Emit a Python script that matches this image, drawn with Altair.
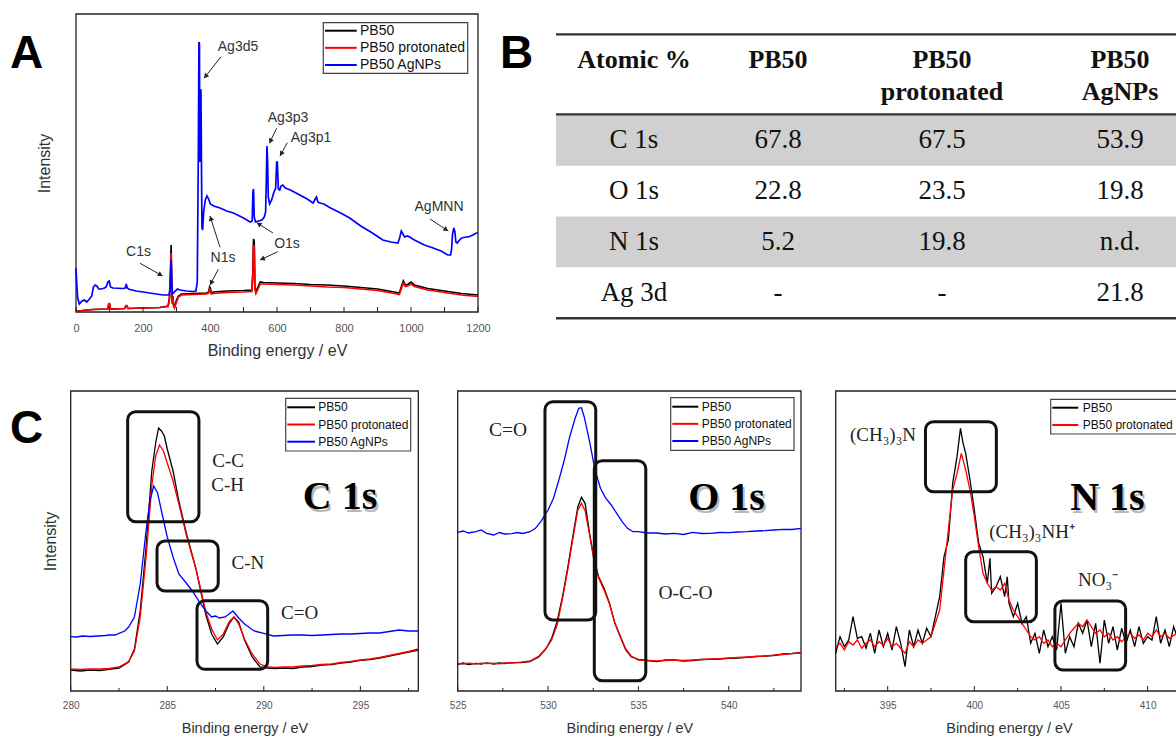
import math
import altair as alt
import pandas as pd

W, H = 1176, 737
SANS = "Liberation Sans"
SERIF = "Liberation Serif"
INK = "#222222"

SERIES = ["PB50", "PB50 protonated", "PB50 AgNPs"]
SERIES_COLORS = ["#000000", "#ff0000", "#0000ff"]

# ---------------- (A) XPS survey spectra: (binding energy eV, intensity a.u.) ----------------
survey_pb50 = [(0, 1), (20, 1.5), (50, 2.5), (95, 3), (98, 8), (100, 8), (103, 3), (145, 3.5), (149, 6),
               (152, 6), (155, 3.5), (200, 4), (250, 4.5), (275, 6), (279, 14), (282, 40), (284, 67),
               (285.5, 30), (287, 10), (289, 16), (291, 8), (294, 5), (300, 12), (306, 16), (315, 18),
               (350, 18.5), (390, 19), (396, 20), (399, 25), (401, 24), (404, 19), (410, 20), (450, 21),
               (500, 21.5), (525, 22), (528, 40), (530, 73), (532, 70), (534, 25), (537, 20), (542, 24),
               (550, 30), (560, 29.5), (600, 29), (650, 28.5), (700, 27.5), (750, 27), (800, 26),
               (850, 24.5), (900, 23), (950, 20), (965, 19), (972, 26), (977, 31), (983, 27), (990, 27.5),
               (1000, 30), (1010, 27), (1050, 23.5), (1100, 21), (1150, 18.5), (1200, 17)]
survey_protonated = [(0, 0.5), (5, 1), (20, 1.5), (50, 2.5), (95, 3), (98, 8.5), (100, 8.5), (103, 3),
                     (145, 3.5), (149, 6.5), (152, 6.5), (155, 3.5), (200, 4), (250, 4.5), (275, 5.5),
                     (279, 13), (282, 35), (284, 59), (285.5, 28), (287, 8), (289, 14), (291, 6), (294, 4),
                     (300, 10), (306, 15), (315, 17), (350, 17.5), (390, 18), (396, 19), (399, 23),
                     (401, 22), (404, 18), (410, 18.5), (450, 19.5), (500, 20), (525, 20.5), (528, 38),
                     (530, 67), (532, 64), (534, 23), (537, 18.5), (542, 22), (550, 28), (560, 28),
                     (600, 27.5), (650, 27), (700, 26), (750, 25), (800, 24.5), (850, 23), (900, 21.5),
                     (950, 18.5), (965, 17.5), (972, 24), (977, 29), (983, 25.5), (990, 26), (1000, 28),
                     (1010, 25.5), (1050, 22), (1100, 19.5), (1150, 17), (1200, 15.5)]
survey_agnps = [(0, 44), (2, 30), (5, 14), (10, 8), (18, 11), (25, 12), (32, 10), (40, 13), (47, 16),
                (52, 25), (57, 27), (62, 26), (68, 23), (75, 23), (85, 24), (90, 25), (95, 30), (99, 31),
                (103, 25), (110, 24), (140, 23.5), (147, 24), (150, 28), (153, 24), (160, 22.5),
                (180, 21), (200, 20), (230, 18.5), (260, 17), (278, 17), (282, 25), (284, 52), (286, 30),
                (288, 18), (291, 19), (296, 21), (303, 23), (310, 22), (330, 21), (350, 20.5), (358, 21),
                (362, 30), (365, 150), (367, 270), (368.5, 268), (369.5, 150), (371, 222), (373, 222),
                (374.5, 150), (376, 84), (378, 82), (381, 100), (386, 112), (391, 116), (396, 113),
                (401, 108), (411, 106), (430, 104), (450, 101), (470, 99), (500, 94), (520, 90),
                (526, 91), (528, 120), (530, 123), (532, 95), (536, 90), (545, 91), (555, 92), (562, 95),
                (566, 100), (568, 130), (570, 166), (572, 150), (574, 115), (578, 108), (584, 112),
                (590, 119), (596, 124), (599, 150), (601, 150), (604, 123), (608, 122), (612, 126),
                (617, 127), (625, 124), (640, 122), (668, 117), (690, 113), (708, 109), (714, 113),
                (718, 115), (722, 110), (728, 109), (740, 108), (760, 104), (790, 99), (817, 94),
                (850, 86), (880, 80), (916, 72), (940, 70), (961, 69), (966, 74), (971, 81), (976, 78),
                (981, 75), (990, 76), (996, 75), (1010, 72), (1040, 67), (1066, 64), (1090, 61),
                (1110, 57), (1118, 57), (1121, 62), (1124, 78), (1128, 84), (1131, 80), (1134, 70),
                (1138, 69), (1145, 72), (1151, 74), (1165, 75), (1171, 75), (1185, 77), (1195, 79),
                (1200, 79)]

survey_labels = [(483.6, 265, "Ag3d5"), (632.8, 194, "Ag3p3"), (701.5, 174, "Ag3p1"),
                 (1083.6, 105, "AgMNN"), (629.9, 68, "O1s"), (438.8, 54, "N1s"), (186.6, 60.3, "C1s")]
# arrows: (from eV, from intensity, to eV, to intensity)
survey_arrows = [(432.9, 255.3, 382.1, 233.7), (599.1, 183.7, 577.0, 168.7), (630.7, 169.3, 608.9, 156.0),
                 (1056.7, 93, 1111.3, 81), (588.0, 79, 539.4, 89.3), (602.1, 60.3, 549.3, 52),
                 (429.9, 64.7, 400.0, 96), (424.8, 42.7, 400.0, 27), (191.1, 48.7, 258.8, 36)]

# ---------------- (B) surface composition, atomic % ----------------
table_rows = ["C 1s", "O 1s", "N 1s", "Ag 3d"]
atomic_pb50 = ["67.8", "22.8", "5.2", "-"]
atomic_protonated = ["67.5", "23.5", "19.8", "-"]
atomic_agnps = ["53.9", "19.8", "n.d.", "21.8"]
table_header = [("Atomic %", ""), ("PB50", ""), ("PB50", "protonated"), ("PB50", "AgNPs")]
shaded_rows = ["C 1s", "N 1s"]

# ---------------- (C) high-resolution core-level spectra ----------------
c1s_pb50 = [(280.0, 21), (280.5, 20), (281.0, 21), (281.5, 20.5), (282.0, 21.7), (282.5, 23), (283.0, 29),
            (283.3, 42), (283.6, 80), (283.9, 143), (284.2, 220), (284.4, 248), (284.55, 263), (284.7, 260),
            (284.85, 255), (285.0, 242), (285.3, 220), (285.6, 190), (286.0, 157), (286.5, 121),
            (287.0, 76), (287.3, 57), (287.6, 47), (287.9, 54), (288.2, 67), (288.45, 74), (288.7, 69),
            (289.0, 51), (289.4, 34), (289.8, 24), (290.2, 23), (290.6, 22.5), (291.0, 23), (291.5, 22.5),
            (292.0, 24), (292.5, 24.5), (293.0, 26), (293.5, 26.5), (294.0, 28), (294.5, 29), (295.0, 30.7),
            (295.5, 31.5), (296.0, 33), (296.5, 35), (297.0, 37), (297.5, 39), (298.0, 41)]
c1s_protonated = [(280.0, 22), (280.5, 21.5), (281.0, 22), (281.5, 22), (282.0, 22.5), (282.5, 24),
                  (283.0, 29.5), (283.3, 40), (283.6, 74), (283.9, 133), (284.2, 205), (284.4, 235),
                  (284.6, 246), (284.8, 240), (285.0, 228), (285.3, 210), (285.6, 187), (286.0, 155),
                  (286.5, 121), (287.0, 79), (287.3, 62), (287.6, 51), (287.9, 57), (288.2, 69),
                  (288.45, 74), (288.7, 67), (289.0, 52), (289.4, 37), (289.8, 27), (290.2, 24),
                  (290.6, 23.5), (291.0, 24), (291.5, 24), (292.0, 25), (292.5, 25.5), (293.0, 26.5),
                  (293.5, 27), (294.0, 28.5), (294.5, 29.5), (295.0, 31), (295.5, 32), (296.0, 33.5),
                  (296.5, 35.5), (297.0, 37.5), (297.5, 39.5), (298.0, 42)]
c1s_agnps = [(280.0, 54.3), (280.3, 54), (280.6, 55), (281.0, 54.5), (281.4, 55), (281.8, 55.5), (282.0, 56),
             (282.3, 56), (282.5, 57.7), (282.8, 60), (283.0, 64), (283.3, 74), (283.6, 107), (283.9, 160),
             (284.1, 190), (284.3, 205), (284.5, 198), (284.7, 180), (285.0, 154), (285.3, 134),
             (285.6, 117), (285.9, 110), (286.3, 100), (286.7, 88), (287.0, 80), (287.3, 74), (287.5, 75),
             (287.7, 73), (288.0, 74), (288.2, 77), (288.4, 80), (288.7, 73), (289.0, 67), (289.5, 60),
             (290.0, 57.7), (290.5, 55), (291.0, 55.5), (291.5, 56), (292.0, 56), (292.5, 55.5), (293.0, 56),
             (293.5, 56.5), (294.0, 57), (294.5, 57), (295.0, 57.5), (295.5, 58), (296.0, 58), (296.5, 59.5),
             (297.0, 61), (297.5, 60), (298.0, 60)]

o1s_pb50 = [(525.0, 26.7), (525.3, 28), (525.6, 26.5), (526.0, 27.7), (526.3, 27), (526.6, 28.2), (527.0, 27),
            (527.3, 28), (527.6, 27.5), (528.0, 28.3), (528.5, 28.3), (529.0, 29.3), (529.5, 34.3),
            (529.9, 42.7), (530.2, 52.7), (530.5, 69.3), (530.8, 94.3), (531.1, 124.3), (531.4, 157.7),
            (531.65, 184.3), (531.85, 193.7), (532.05, 187.7), (532.3, 157.7), (532.55, 131), (532.8, 114.3),
            (533.1, 102.7), (533.4, 87.7), (533.7, 67.7), (534.0, 54.3), (534.3, 41), (534.6, 34.3),
            (535.0, 31.7), (535.5, 30.5), (536.0, 29.3), (536.5, 31), (537.0, 31), (537.5, 30), (538.0, 30.3),
            (538.5, 31.5), (539.0, 31.7), (539.5, 32), (540.0, 32.7), (540.5, 33), (541.0, 33.7),
            (541.5, 34.5), (542.0, 35), (542.5, 35.5), (543.0, 37), (543.5, 37.5), (544.0, 38.3)]
o1s_protonated = [(525.0, 27.5), (525.3, 27), (525.6, 27.8), (526.0, 27), (526.3, 27.8), (526.6, 27.3),
                  (527.0, 27.8), (527.3, 27.2), (527.6, 28), (528.0, 28), (528.5, 28.8), (529.0, 30),
                  (529.5, 35), (529.9, 43), (530.2, 51), (530.5, 66), (530.8, 92), (531.1, 122), (531.4, 155),
                  (531.65, 181), (531.85, 187.7), (532.05, 180), (532.3, 156), (532.55, 130), (532.8, 113),
                  (533.1, 101), (533.4, 87), (533.7, 68), (534.0, 55), (534.3, 42), (534.6, 35), (535.0, 31),
                  (535.5, 30.5), (536.0, 30.2), (536.5, 30.5), (537.0, 30.8), (537.5, 30.5), (538.0, 31),
                  (538.5, 31.5), (539.0, 32), (539.5, 32.3), (540.0, 33), (540.5, 33.5), (541.0, 34),
                  (541.5, 34.5), (542.0, 35), (542.5, 35.8), (543.0, 36.5), (543.5, 37.3), (544.0, 38)]
o1s_agnps = [(525.0, 158.7), (525.3, 160), (525.6, 158), (526.0, 159.3), (526.3, 161), (526.6, 157.7),
             (527.0, 156), (527.3, 158.5), (527.6, 157), (528.0, 157.3), (528.3, 158.5), (528.6, 157.5),
             (529.0, 159.3), (529.3, 162.7), (529.6, 169.3), (530.0, 181), (530.3, 192.7), (530.6, 211),
             (530.9, 231), (531.2, 254.3), (531.5, 272.7), (531.7, 282.7), (531.85, 283.3), (532.0, 274.3),
             (532.3, 249.3), (532.6, 221), (532.9, 202.7), (533.2, 192.7), (533.5, 186), (533.8, 177.7),
             (534.1, 169.3), (534.4, 162.7), (534.7, 159.3), (535.0, 159.3), (535.5, 158), (536.0, 158),
             (536.5, 157), (537.0, 157.7), (537.5, 156.5), (538.0, 158.7), (538.5, 157.5), (539.0, 157.7),
             (539.5, 158.5), (540.0, 158.3), (540.5, 159), (541.0, 159.3), (541.5, 160), (542.0, 160.3),
             (542.5, 161), (543.0, 161.7), (543.5, 161.5), (544.0, 162.7)]

n1s_pb50 = [(392.0, 37.7), (392.25, 54.3), (392.5, 44.3), (392.75, 51), (393.0, 74.3), (393.25, 52.7),
            (393.5, 54.3), (393.75, 42.7), (394.0, 57.7), (394.25, 37.7), (394.5, 61), (394.75, 44.3),
            (395.0, 57.7), (395.25, 41), (395.5, 64.3), (395.75, 47.7), (396.0, 24.3), (396.25, 61),
            (396.5, 44.3), (396.75, 61), (397.0, 47.7), (397.25, 62.7), (397.5, 54.3), (397.75, 74.3),
            (398.0, 94.3), (398.25, 134.3), (398.5, 151), (398.75, 207.7), (399.0, 234.3), (399.2, 262.7),
            (399.35, 247.7), (399.5, 237.7), (399.75, 211), (400.0, 181), (400.25, 147.7), (400.5, 134.3),
            (400.75, 107.7), (400.9, 132.7), (401.0, 97.7), (401.25, 104.3), (401.5, 114.3), (401.75, 94.3),
            (401.9, 114.3), (402.0, 87.7), (402.25, 74.3), (402.5, 87.7), (402.75, 67.7), (403.0, 74.3),
            (403.25, 47.7), (403.5, 57.7), (403.75, 37.7), (404.0, 61), (404.25, 44.3), (404.5, 54.3),
            (404.75, 41), (405.0, 87.7), (405.25, 37.7), (405.5, 54.3), (405.75, 44.3), (406.0, 67.7),
            (406.25, 57.7), (406.5, 71), (406.75, 44.3), (407.0, 67.7), (407.25, 27.7), (407.5, 71),
            (407.75, 47.7), (408.0, 64.3), (408.25, 41), (408.5, 62.7), (408.75, 47.7), (409.0, 61),
            (409.25, 44.3), (409.5, 64.3), (409.75, 47.7), (410.0, 54.3), (410.25, 51), (410.5, 74.3),
            (410.75, 47.7), (411.0, 61), (411.25, 44.3), (411.5, 64.3), (411.7, 54.3)]
n1s_protonated = [(392.0, 44.3), (392.25, 47.7), (392.5, 41), (392.75, 49.3), (393.0, 46), (393.25, 51),
                  (393.5, 42.7), (393.75, 47.7), (394.0, 51), (394.25, 44.3), (394.5, 49.3), (394.75, 46),
                  (395.0, 52.7), (395.25, 44.3), (395.5, 47.7), (395.75, 42.7), (396.0, 37.7), (396.25, 49.3),
                  (396.5, 44.3), (396.75, 51), (397.0, 47.7), (397.25, 51), (397.5, 54.3), (397.75, 67.7),
                  (398.0, 81), (398.25, 121), (398.5, 161), (398.75, 201), (399.0, 217.7), (399.25, 237.7),
                  (399.5, 221), (399.75, 201), (400.0, 174.3), (400.25, 144.3), (400.5, 117.7),
                  (400.75, 107.7), (401.0, 101), (401.25, 104.3), (401.5, 101), (401.75, 107.7), (402.0, 91),
                  (402.25, 81), (402.5, 74.3), (402.75, 67.7), (403.0, 61), (403.25, 54.3), (403.5, 51),
                  (403.75, 54.3), (404.0, 47.7), (404.25, 51), (404.5, 44.3), (404.75, 47.7), (405.0, 44.3),
                  (405.25, 51), (405.5, 57.7), (405.75, 62.7), (406.0, 67.7), (406.25, 64.3), (406.5, 71),
                  (406.75, 64.3), (407.0, 57.7), (407.25, 61), (407.5, 54.3), (407.75, 57.7), (408.0, 51),
                  (408.25, 54.3), (408.5, 49.3), (408.75, 54.3), (409.0, 57.7), (409.25, 52.7), (409.5, 56),
                  (409.75, 51), (410.0, 57.7), (410.25, 54.3), (410.5, 61), (410.75, 54.3), (411.0, 57.7),
                  (411.25, 52.7), (411.7, 57.7)]

# component boxes: (eV from, eV to, intensity low, intensity high)
c1s_boxes = [(282.95, 286.64, 169.3, 279.3), (284.47, 287.64, 100, 150), (286.54, 290.20, 21.7, 90.3)]
o1s_boxes = [(529.83, 532.64, 71, 289.3), (532.56, 535.41, 10.3, 230.3)]
n1s_boxes = [(397.18, 401.27, 199.3, 269.3), (399.50, 403.58, 69.3, 139.3), (404.65, 408.73, 21, 90)]

c1s_labels = [(288.15, 230.3, "C-C"), (288.13, 206, "C-H"), (289.18, 127.7, "C-N"), (291.85, 77.7, "C=O")]
o1s_labels = [(527.78, 261, "C=O"), (537.61, 98.3, "O-C-O")]
n1s_labels = [(394.73, 256, "(CH₃)₃N"), (403.33, 159.3, "(CH₃)₃NH⁺"), (407.14, 111, "NO₃⁻")]
core_titles = [(293.95, 194.5, "C 1s"), (539.88, 192.7, "O 1s"), (407.68, 193, "N 1s")]

# ---------------- layout: data domains and their pixel spans on the page ----------------
PANEL_A = dict(xdom=[0, 1200], xrng=[76, 478], ydom=[0, 298], yrng=[312, 14])
PANEL_C1 = dict(xdom=[280, 298], xrng=[70.7, 418.3], ydom=[0, 300], yrng=[691, 391])
PANEL_C2 = dict(xdom=[525, 544], xrng=[457.7, 801], ydom=[0, 300], yrng=[691, 391])
PANEL_C3 = dict(xdom=[392, 412], xrng=[835.7, 1182.3], ydom=[0, 300], yrng=[691, 391])


def xsc(p):
    return alt.Scale(domain=p["xdom"], range=p["xrng"], nice=False, zero=False)


def ysc(p):
    return alt.Scale(domain=p["ydom"], range=p["yrng"], nice=False, zero=False)


def spectrum(p, points, name, width):
    df = pd.DataFrame(points, columns=["ev", "intensity"])
    df["series"] = name
    return alt.Chart(df).mark_line(strokeWidth=width).encode(
        x=alt.X("ev:Q", scale=xsc(p), axis=None),
        y=alt.Y("intensity:Q", scale=ysc(p), axis=None),
        color=alt.Color("series:N", scale=alt.Scale(domain=SERIES, range=SERIES_COLORS), legend=None),
    )


def frame(p, ticks, label_size, label_pad, title_size, title_pad, y_title="", y_pad=0):
    df = pd.DataFrame({"x0": [p["xdom"][0]], "x1": [p["xdom"][1]],
                       "y0": [p["ydom"][0]], "y1": [p["ydom"][1]]})
    x_axis = alt.Axis(orient="bottom", offset=-(H - p["yrng"][0]), values=ticks, format="d",
                      ticks=False, tickSize=0, domain=False, grid=False, labelFlush=False,
                      labelFont=SANS, labelFontSize=label_size, labelColor="#555555",
                      labelPadding=label_pad, title="Binding energy / eV", titleFont=SANS,
                      titleFontSize=title_size, titleFontWeight="normal", titleColor="#333333",
                      titlePadding=title_pad)
    if y_title:
        y_axis = alt.Axis(orient="left", offset=-p["xrng"][0], labels=False, ticks=False, tickSize=0,
                          domain=False, grid=False, title=y_title, titleFont=SANS, titleFontSize=16,
                          titleFontWeight="normal", titleColor="#333333", titlePadding=y_pad)
    else:
        y_axis = None
    return alt.Chart(df).mark_rect(fillOpacity=0, stroke=INK, strokeWidth=1.3).encode(
        x=alt.X("x0:Q", scale=xsc(p), axis=x_axis), x2="x1:Q",
        y=alt.Y("y0:Q", scale=ysc(p), axis=y_axis), y2="y1:Q",
    )


def inner_ticks(p, values, length):
    df = pd.DataFrame({"v": values})
    return alt.Chart(df).mark_rule(stroke=INK, strokeWidth=1).encode(
        x=alt.X("v:Q", scale=xsc(p), axis=None),
        y=alt.value(p["yrng"][0]), y2=alt.value(p["yrng"][0] - length),
    )


def notes(p, items, font, size, color, weight="normal", dx=0, dy=0, opacity=1.0):
    df = pd.DataFrame(items, columns=["ev", "intensity", "label"])
    return alt.Chart(df).mark_text(font=font, fontSize=size, color=color, fontWeight=weight,
                                   align="center", baseline="middle", dx=dx, dy=dy,
                                   opacity=opacity).encode(
        x=alt.X("ev:Q", scale=xsc(p), axis=None),
        y=alt.Y("intensity:Q", scale=ysc(p), axis=None),
        text="label:N",
    )


def boxes(p, items):
    df = pd.DataFrame(items, columns=["e0", "e1", "i0", "i1"])
    return alt.Chart(df).mark_rect(fillOpacity=0, stroke="#111111", strokeWidth=3, cornerRadius=8).encode(
        x=alt.X("e0:Q", scale=xsc(p), axis=None), x2="e1:Q",
        y=alt.Y("i0:Q", scale=ysc(p), axis=None), y2="i1:Q",
    )


def arrows(p, items):
    px_per_ev = (p["xrng"][1] - p["xrng"][0]) / (p["xdom"][1] - p["xdom"][0])
    px_per_int = (p["yrng"][0] - p["yrng"][1]) / (p["ydom"][1] - p["ydom"][0])
    rows = []
    for e0, i0, e1, i1 in items:
        dx = (e1 - e0) * px_per_ev
        dy = -(i1 - i0) * px_per_int
        n = math.hypot(dx, dy)
        ux, uy = dx / n, dy / n
        rows.append(dict(e0=e0, i0=i0, e1=e1, i1=i1,
                         he=e1 - ux * 2.5 / px_per_ev, hi=i1 + uy * 2.5 / px_per_int,
                         ang=math.degrees(math.atan2(dx, -dy)) % 360))
    df = pd.DataFrame(rows)
    shafts = alt.Chart(df).mark_rule(stroke=INK, strokeWidth=1).encode(
        x=alt.X("e0:Q", scale=xsc(p), axis=None), x2="e1:Q",
        y=alt.Y("i0:Q", scale=ysc(p), axis=None), y2="i1:Q",
    )
    heads = alt.Chart(df).mark_point(shape="triangle-up", filled=True, size=30, color=INK, opacity=1).encode(
        x=alt.X("he:Q", scale=xsc(p), axis=None),
        y=alt.Y("hi:Q", scale=ysc(p), axis=None),
        angle=alt.Angle("ang:Q", scale=None),
    )
    return [shafts, heads]


def legend_box(names, colors, box, rows_y, line_x, text_x, size):
    one = pd.DataFrame({"k": [0]})
    frame_ = alt.Chart(one).mark_rect(fill="white", stroke="#444444", strokeWidth=1.2).encode(
        x=alt.value(box[0]), x2=alt.value(box[1]), y=alt.value(box[2]), y2=alt.value(box[3]))
    df = pd.DataFrame({"series": names})
    ypos = alt.Y("series:N", scale=alt.Scale(type="point", domain=names, range=list(rows_y), padding=0),
                 axis=None)
    keys = alt.Chart(df).mark_rule(strokeWidth=2).encode(
        x=alt.value(line_x[0]), x2=alt.value(line_x[1]), y=ypos,
        color=alt.Color("series:N", scale=alt.Scale(domain=names, range=colors), legend=None))
    labels = alt.Chart(df).mark_text(align="left", baseline="middle", font=SANS, fontSize=size,
                                     color="#111111").encode(x=alt.value(text_x), y=ypos, text="series:N")
    return [frame_, keys, labels]


def letter(ch, x, y):
    return alt.Chart(pd.DataFrame({"t": [ch]})).mark_text(
        font=SANS, fontSize=46, fontWeight="bold", color="#000000", align="left",
        baseline="alphabetic").encode(x=alt.value(x), y=alt.value(y), text="t:N")


layers = []

# ---- panel A: survey ----
layers.append(frame(PANEL_A, list(range(0, 1201, 200)), 11, 10, 16, 9, "Intensity", 24))
layers.append(spectrum(PANEL_A, survey_pb50, "PB50", 1.7))
layers.append(spectrum(PANEL_A, survey_protonated, "PB50 protonated", 1.7))
layers.append(spectrum(PANEL_A, survey_agnps, "PB50 AgNPs", 1.7))
layers.append(inner_ticks(PANEL_A, list(range(0, 1201, 100)), 5))
layers.append(notes(PANEL_A, survey_labels, SANS, 14, "#333333"))
layers += arrows(PANEL_A, survey_arrows)
layers += legend_box(SERIES, SERIES_COLORS, (323.3, 467.7, 22.7, 73.3), (30.7, 65), (325, 356.7), 360, 14)
layers.append(letter("A", 10, 68))

# ---- panel B: composition table ----
TABLE_X = (556, W)
COL_CENTERS = [634, 778, 942, 1120]
band_y = alt.Y("row:N", scale=alt.Scale(type="band", domain=table_rows, range=[115, 318],
                                        paddingInner=0, paddingOuter=0), axis=None, bandPosition=0.5)
shade = alt.Chart(pd.DataFrame({"row": shaded_rows})).mark_rect(color="#d0d0d0").encode(
    x=alt.value(TABLE_X[0]), x2=alt.value(TABLE_X[1]),
    y=alt.Y("row:N", scale=alt.Scale(type="band", domain=table_rows, range=[115, 318],
                                     paddingInner=0, paddingOuter=0), axis=None))
layers.append(shade)
for y_line, w_line in [(34.3, 2.2), (114.3, 2.2), (318.3, 2.6)]:
    layers.append(alt.Chart(pd.DataFrame({"k": [0]})).mark_rule(stroke="#333333", strokeWidth=w_line).encode(
        x=alt.value(TABLE_X[0]), x2=alt.value(TABLE_X[1]), y=alt.value(y_line)))
for cx, (top, bottom) in zip(COL_CENTERS, table_header):
    for y_txt, txt in [(60, top), (91.7, bottom)]:
        if txt:
            layers.append(alt.Chart(pd.DataFrame({"t": [txt]})).mark_text(
                font=SERIF, fontSize=26, fontWeight="bold", color="#111111",
                align="center", baseline="middle").encode(x=alt.value(cx), y=alt.value(y_txt), text="t:N"))
for cx, column in zip(COL_CENTERS, [table_rows, atomic_pb50, atomic_protonated, atomic_agnps]):
    df = pd.DataFrame({"row": table_rows, "value": column})
    layers.append(alt.Chart(df).mark_text(font=SERIF, fontSize=27, color="#111111",
                                          align="center", baseline="middle").encode(
        x=alt.value(cx), y=band_y, text="value:N"))
layers.append(letter("B", 500, 68))

# ---- panel C: core levels ----
for p, ticks, minor, title in [
    (PANEL_C1, [280, 285, 290, 295], [282.5, 287.5, 292.5, 297.5], "Intensity"),
    (PANEL_C2, [525, 530, 535, 540], [527.5, 532.5, 537.5, 542.5], ""),
    (PANEL_C3, [395, 400, 405, 410], [392.5, 397.5, 402.5, 407.5], ""),
]:
    layers.append(frame(p, ticks, 10, 9, 14.5, 11, title, 12))
    layers.append(inner_ticks(p, ticks, 5))
    layers.append(inner_ticks(p, minor, 3))

layers.append(spectrum(PANEL_C1, c1s_pb50, "PB50", 1.3))
layers.append(spectrum(PANEL_C1, c1s_protonated, "PB50 protonated", 1.3))
layers.append(spectrum(PANEL_C1, c1s_agnps, "PB50 AgNPs", 1.3))
layers.append(boxes(PANEL_C1, c1s_boxes))
layers.append(notes(PANEL_C1, c1s_labels, SERIF, 19, "#222222"))

layers.append(spectrum(PANEL_C2, o1s_pb50, "PB50", 1.3))
layers.append(spectrum(PANEL_C2, o1s_protonated, "PB50 protonated", 1.3))
layers.append(spectrum(PANEL_C2, o1s_agnps, "PB50 AgNPs", 1.3))
layers.append(boxes(PANEL_C2, o1s_boxes))
layers.append(notes(PANEL_C2, o1s_labels, SERIF, 19.5, "#222222"))

layers.append(spectrum(PANEL_C3, n1s_pb50, "PB50", 1.3))
layers.append(spectrum(PANEL_C3, n1s_protonated, "PB50 protonated", 1.3))
layers.append(boxes(PANEL_C3, n1s_boxes))
layers.append(notes(PANEL_C3, n1s_labels, SERIF, 19, "#222222"))

for p, item in zip([PANEL_C1, PANEL_C2, PANEL_C3], core_titles):
    layers.append(notes(p, [item], SERIF, 40, "#8a8a8a", "bold", dx=2, dy=3, opacity=0.6))
    layers.append(notes(p, [item], SERIF, 40, "#000000", "bold"))

layers += legend_box(SERIES, SERIES_COLORS, (285.7, 410.7, 398.3, 451), (407.3, 441.7), (287.3, 315), 318.3, 12)
layers += legend_box(SERIES, SERIES_COLORS, (670.7, 794, 397.7, 450.3), (406.7, 441), (672.3, 698.3), 701.7, 12)
layers += legend_box(SERIES[:2], SERIES_COLORS[:2], (1050.7, 1190, 399.3, 434), (407.7, 425),
                     (1052.3, 1078.3), 1082.7, 12)
layers.append(letter("C", 10, 443))

chart = alt.layer(*layers).properties(
    width=W, height=H, padding=0, autosize=alt.AutoSizeParams(type="none"),
).resolve_scale(
    x="independent", y="independent", color="independent"
).resolve_axis(
    x="independent", y="independent"
).configure_view(strokeWidth=0)

chart.save("out.html", embed_options={"renderer": "svg", "actions": False})
